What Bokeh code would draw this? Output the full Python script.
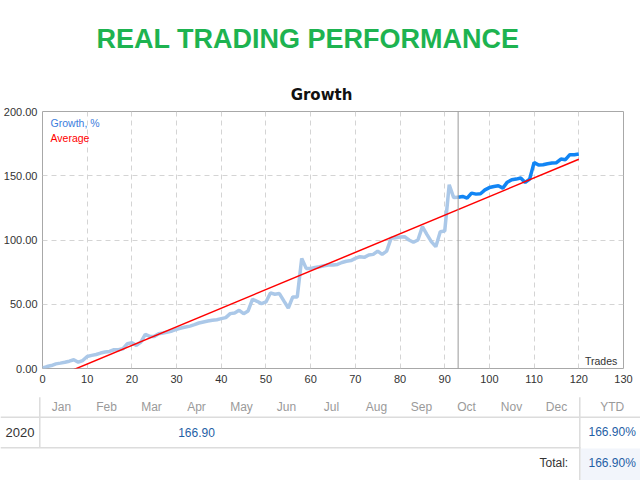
from bokeh.plotting import figure
from bokeh.layouts import column, row
from bokeh.models import Range1d, FixedTicker, NumeralTickFormatter, Span, Label
from bokeh.core.properties import value
from bokeh.embed import file_html
from bokeh.resources import INLINE

# growth curve, % per trade
growth = [0.5, 1.5, 2.3, 3.6, 4.2, 4.9, 5.7, 6.8, 4.9, 6.2,
          9.4, 10.2, 10.9, 12.0, 12.8, 13.3, 14.6, 14.6, 15.4, 19.3,
          20.0, 18.0, 20.6, 26.6, 25.0, 25.0, 27.0, 27.6, 28.4, 29.2,
          30.5, 31.5, 32.3, 33.0, 34.1, 35.4, 36.2, 36.9, 37.5, 38.0,
          38.8, 39.6, 42.7, 43.2, 45.3, 42.7, 44.8, 53.9, 52.3, 50.5,
          51.8, 58.8, 57.8, 58.3, 52.6, 47.1, 55.7, 55.7, 85.7, 77.9,
          77.9, 78.6, 79.2, 80.0, 80.5, 80.5, 81.0, 82.5, 83.5, 84.0,
          85.7, 87.0, 86.5, 88.3, 88.8, 91.4, 88.8, 91.4, 101.3, 101.8,
          102.3, 102.6, 100.0, 98.2, 100.0, 110.4, 104.4, 98.7, 94.8, 106.5,
          107.0, 143.0, 133.0, 133.3, 133.9, 132.6, 136.5, 135.7, 136.0, 139.0,
          140.8, 141.6, 142.2, 140.4, 145.0, 146.9, 147.4, 148.2, 144.8, 147.4,
          160.4, 158.3, 158.6, 159.4, 159.9, 160.2, 163.0, 162.5, 166.4, 166.4,
          166.9]
trades = list(range(len(growth)))
split_trade = 93  # where the highlighted part starts

# trend line ("Average")
avg_trades = [0, 120]
avg_growth = [-11.0, 162.8]

x_ticks = list(range(0, 131, 10))
y_ticks = [0, 50, 100, 150, 200]

months = ["Jan", "Feb", "Mar", "Apr", "May", "Jun",
          "Jul", "Aug", "Sep", "Oct", "Nov", "Dec"]
month_growth = [None, None, None, 166.90, None, None,
                None, None, None, None, None, None]
year = "2020"
ytd = 166.90
total = 166.90

FONT = "Liberation Sans"
TXT = "#333333"

# ---- header (coords = page pixels)
head = figure(width=640, height=103, x_range=Range1d(0, 640), y_range=Range1d(103, 0),
              toolbar_location=None, output_backend="svg", min_border=0,
              x_axis_location=None, y_axis_location=None, outline_line_color=None)
head.grid.visible = False
head.text(x=[307.5], y=[38], text=["REAL TRADING PERFORMANCE"], text_align="center",
          text_baseline="middle", text_font=value(FONT), text_font_style="bold",
          text_font_size="27px", text_color="#1db350")
head.text(x=[321], y=[94], text=["Growth"], text_align="center", text_baseline="middle",
          text_font=value("DejaVu Sans"), text_font_style="bold", text_font_size="15px",
          text_color="#111111")

# ---- growth chart
p = figure(width=640, height=287, x_range=Range1d(0, 130), y_range=Range1d(0, 200),
           toolbar_location=None, output_backend="svg",
           min_border_left=41, min_border_right=17, min_border_top=8, min_border_bottom=22)
p.outline_line_color = "#a8a8a8"
p.xaxis.ticker = FixedTicker(ticks=x_ticks)
p.yaxis.ticker = FixedTicker(ticks=y_ticks)
p.yaxis.formatter = NumeralTickFormatter(format="0.00")
p.axis.axis_line_color = None
p.axis.major_tick_line_color = None
p.axis.minor_tick_line_color = None
p.axis.major_tick_out = 0
p.axis.major_tick_in = 0
p.axis.minor_tick_out = 0
p.axis.major_label_text_font = FONT
p.axis.major_label_text_font_size = "11px"
p.axis.major_label_text_color = TXT
p.xaxis.major_label_standoff = 6
p.yaxis.major_label_standoff = 5
p.xgrid.ticker = FixedTicker(ticks=x_ticks[1:-1])
p.ygrid.ticker = FixedTicker(ticks=y_ticks[1:-1])
p.grid.grid_line_color = "#d4d4d4"
p.grid.grid_line_dash = "5 4"

p.add_layout(Span(location=split_trade, dimension="height", line_color="#999999", line_width=1))
p.line(trades[:split_trade + 1], growth[:split_trade + 1], line_color="#abc8e8", line_width=3.5)
p.line(trades[split_trade:], growth[split_trade:], line_color="#1285f4", line_width=3.5)
p.line(avg_trades, avg_growth, line_color="#ff0000", line_width=1.5)

p.add_layout(Label(x=1.8, y=191.4, text="Growth, %", text_color="#3b7ddd", text_font=FONT,
                   text_font_size="10.5px", text_baseline="middle"))
p.add_layout(Label(x=1.8, y=179.0, text="Average", text_color="#ff0000", text_font=FONT,
                   text_font_size="10.5px", text_baseline="middle"))
p.add_layout(Label(x=128.6, y=6.2, text="Trades", text_color=TXT, text_font=FONT,
                   text_font_size="10.5px", text_baseline="middle", text_align="right"))

# ---- monthly table (coords = page pixels)
tbl = figure(width=640, height=90, x_range=Range1d(0, 640), y_range=Range1d(480, 390),
             toolbar_location=None, output_backend="svg", min_border=0,
             x_axis_location=None, y_axis_location=None, outline_line_color=None)
tbl.grid.visible = False
tbl.quad(left=[580], right=[640], top=[448], bottom=[480], fill_color="#f2f5fb", line_color=None)
tbl.segment(x0=[0, 0, 39.3, 579.3], y0=[416.7, 447.3, 396.7, 396.7],
            x1=[640, 580, 39.3, 579.3], y1=[416.7, 447.3, 447.3, 480],
            line_color="#dcdcdc", line_width=1.5)
col_x = [61 + 45 * i for i in range(len(months))]
tbl.text(x=col_x + [611.7], y=[406] * (len(months) + 1), text=months + ["YTD"],
         text_align="center", text_baseline="middle", text_font=value(FONT),
         text_font_size="12px", text_color="#9a9a9a")
tbl.text(x=[19.5], y=[431.7], text=[year], text_align="center", text_baseline="middle",
         text_font=value(FONT), text_font_size="13px", text_color=TXT)
vals_x = [col_x[i] for i, v in enumerate(month_growth) if v is not None]
vals_t = ["%.2f" % v for v in month_growth if v is not None]
tbl.text(x=vals_x, y=[431.7] * len(vals_x), text=vals_t, text_align="center",
         text_baseline="middle", text_font=value(FONT), text_font_size="12px",
         text_color="#1f5fa6")
tbl.text(x=[611.7, 611.7], y=[431.7, 462.7], text=["%.2f%%" % ytd, "%.2f%%" % total],
         text_align="center", text_baseline="middle", text_font=value(FONT),
         text_font_size="12px", text_color="#1f5fa6")
tbl.text(x=[567.7], y=[462.7], text=["Total:"], text_align="right", text_baseline="middle",
         text_font=value(FONT), text_font_size="12px", text_color=TXT)

# rows around each figure keep the frames from being lined up with each other
layout = column(row(head), row(p), row(tbl), spacing=0)
open("out.html", "w").write(file_html(layout, INLINE))
